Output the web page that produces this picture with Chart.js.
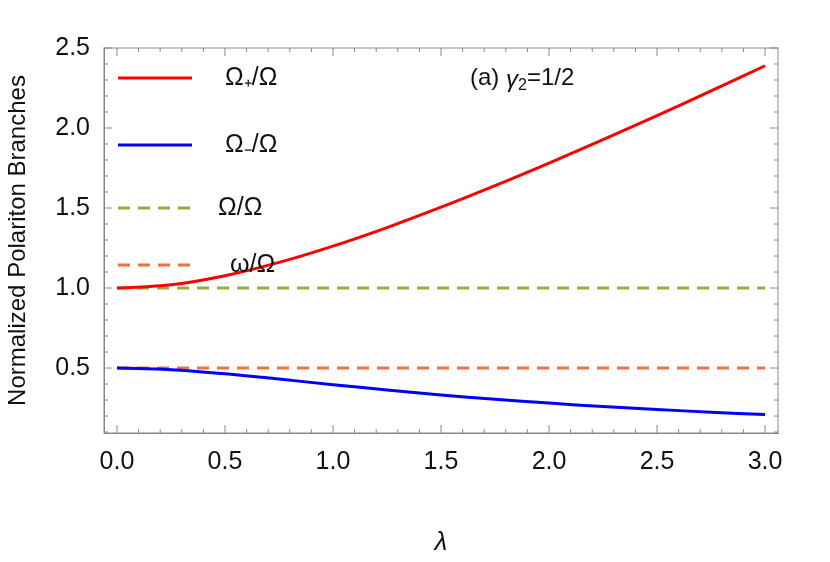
<!DOCTYPE html><html><head><meta charset="utf-8">
<script src="https://cdn.jsdelivr.net/npm/chart.js@4"></script>
<style>body{margin:0;background:#fff}#w{width:830px;height:562px}</style></head><body><div id="w"><canvas id="c"></canvas></div>
<script>
const lambda=[0,0.25,0.5,0.75,1.0,1.25,1.5,1.75,2.0,2.25,2.5,2.75,3.0];
const upper=[1.0,1.020,1.077,1.160,1.262,1.378,1.505,1.640,1.781,1.927,2.078,2.232,2.389];
const lower=[0.5,0.490,0.464,0.431,0.396,0.363,0.332,0.305,0.281,0.259,0.241,0.224,0.209];
const bareCavity=[1.0,1.0];
const bareAtom=[0.5,0.5];
const bareX=[0,3.0];
const labels=["Ω₊/Ω","Ω₋/Ω","Ω/Ω","ω/Ω"];
const xTicks=[0,0.5,1,1.5,2,2.5,3];
const yTicks=[0.5,1,1.5,2,2.5];
const font='"Liberation Sans", Arial, sans-serif';
const pts=(xs,ys)=>xs.map((x,i)=>({x,y:ys[i]}));
const overlay={id:'ov',afterDatasetsDraw(ch){
 const c=ch.ctx,x=ch.scales.x,y=ch.scales.y,a=ch.chartArea;
 c.save();c.strokeStyle='#888';c.lineWidth=1;
 for(let v=0;v<=3.001;v+=0.1){const p=x.getPixelForValue(v);const big=Math.abs(v*2-Math.round(v*2))<1e-6;const L=big?8:4;
  c.beginPath();c.moveTo(p,a.bottom);c.lineTo(p,a.bottom-L);c.stroke();c.beginPath();c.moveTo(p,a.top);c.lineTo(p,a.top+L);c.stroke();}
 for(let v=0.1;v<=2.501;v+=0.1){const p=y.getPixelForValue(v);const big=Math.abs(v*2-Math.round(v*2))<1e-6;const L=big?8:4;
  c.beginPath();c.moveTo(a.left,p);c.lineTo(a.left+L,p);c.stroke();c.beginPath();c.moveTo(a.right,p);c.lineTo(a.right-L,p);c.stroke();}
 const ly=[78,145,208,265],lx=[225,225,218,230];
 ch.data.datasets.forEach((d,i)=>{c.strokeStyle=d.borderColor;c.lineWidth=3;c.setLineDash(d.borderDash||[]);
  c.beginPath();c.moveTo(118,ly[i]);c.lineTo(192,ly[i]);c.stroke();c.setLineDash([]);
  c.fillStyle='#111';c.font='25px '+font;c.textBaseline='middle';c.fillText(labels[i],lx[i],ly[i]);});
 c.font='24px '+font;c.fillStyle='#111';c.textBaseline='middle';
 c.fillText('(a) ',470,78);let w=c.measureText('(a) ').width;
 c.font='italic 24px '+font;c.fillText('γ',470+w,80);w+=c.measureText('γ').width;
 c.font='16px '+font;c.fillText('2',470+w,86);w+=c.measureText('2').width;
 c.font='24px '+font;c.fillText('=1/2',470+w,78);
 c.restore();}};
new Chart(document.getElementById('c'),{type:'scatter',data:{datasets:[
 {data:pts(lambda,upper),borderColor:'#ff0000',borderWidth:3,showLine:true,pointRadius:0,tension:0.4},
 {data:pts(lambda,lower),borderColor:'#0000ff',borderWidth:3,showLine:true,pointRadius:0,tension:0.4},
 {data:pts(bareX,bareCavity),borderColor:'#8db33a',borderWidth:3,borderDash:[12,8],showLine:true,pointRadius:0},
 {data:pts(bareX,bareAtom),borderColor:'#f2703f',borderWidth:3,borderDash:[12,8],showLine:true,pointRadius:0}]},
 options:{responsive:true,maintainAspectRatio:false,animation:false,layout:{padding:{top:48,right:52,left:0,bottom:0}},
 plugins:{legend:{display:false},tooltip:{enabled:false}},
 scales:{x:{type:'linear',min:-0.06,max:3.06,afterBuildTicks:s=>{s.ticks=xTicks.map(v=>({value:v}))},
   ticks:{color:'#111',font:{family:font,size:25},callback:v=>v.toFixed(1),padding:14,maxRotation:0},
   grid:{display:false,drawTicks:false},border:{color:'#888'},
   title:{display:true,text:'λ',font:{family:font,size:26,style:'italic'},color:'#111',padding:{top:12}},
   afterFit:s=>{s.height=129}},
  y:{type:'linear',min:0.094,max:2.5,afterBuildTicks:s=>{s.ticks=yTicks.map(v=>({value:v}))},
   ticks:{color:'#111',font:{family:font,size:25},callback:v=>v.toFixed(1),padding:14},
   grid:{display:false,drawTicks:false},border:{color:'#888'},
   title:{display:true,text:'Normalized Polariton Branches',font:{family:font,size:24},color:'#111',padding:{bottom:0}},
   afterFit:s=>{s.width=104}}}},
 plugins:[overlay,{id:'frame',afterDraw(ch){const c=ch.ctx,a=ch.chartArea;c.save();c.strokeStyle='#888';c.lineWidth=1;c.strokeRect(a.left,a.top,a.right-a.left,a.bottom-a.top);c.restore();}}]});
</script></body></html>
